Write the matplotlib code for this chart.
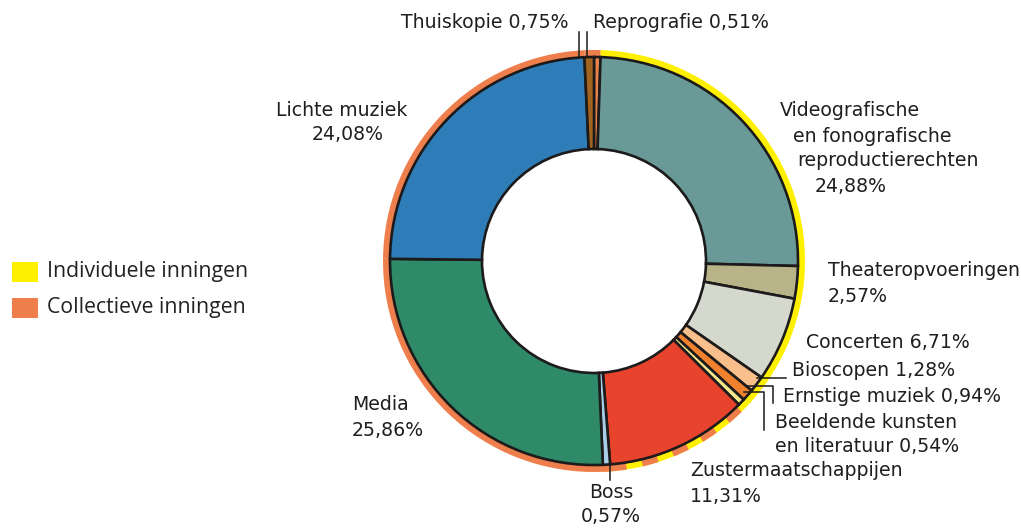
import matplotlib
matplotlib.use("Agg")
import matplotlib.pyplot as plt
from matplotlib.patches import Arc, Rectangle

categories = ["Reprografie", "Videografische en fonografische reproductierechten",
              "Theateropvoeringen", "Concerten", "Bioscopen", "Ernstige muziek",
              "Beeldende kunsten en literatuur", "Zustermaatschappijen", "Boss",
              "Media", "Lichte muziek", "Thuiskopie"]
values = [0.51, 24.88, 2.57, 6.71, 1.28, 0.94, 0.54, 11.31, 0.57, 25.86, 24.08, 0.75]
value_labels = ["0,51%", "24,88%", "2,57%", "6,71%", "1,28%", "0,94%", "0,54%",
                "11,31%", "0,57%", "25,86%", "24,08%", "0,75%"]
slice_colors = ["#e9824a", "#6a9a98", "#b8b388", "#d4d8cd", "#f8bf8c", "#f0812f",
                "#f4e68c", "#e8432d", "#a8cde4", "#2f8a69", "#2e7db8", "#a2631f"]
# ring type: O = collectief, Y = individueel, M = gemengd
ring_type = ["O", "Y", "Y", "Y", "Y", "Y", "Y", "M", "M", "O", "O", "O"]
legend_labels = ["Individuele inningen", "Collectieve inningen"]
YELLOW = "#fff000"
ORANGE = "#ee7f4c"

fig = plt.figure(figsize=(10.21, 5.28), dpi=100)
ax = fig.add_axes([0, 0, 1, 1])

cx, cy = 594, 528 - 261
R = 204
ring_w = 7
hole = 112

ring_cols = [ORANGE if t == "O" else YELLOW for t in ring_type]
ring_wedges, _ = ax.pie(values, colors=ring_cols, startangle=90, counterclock=False,
                        radius=R + ring_w, center=(cx, cy),
                        wedgeprops=dict(width=ring_w + 2, linewidth=0))
for w, t in zip(ring_wedges, ring_type):
    if t == "M":
        arc = Arc((cx, cy), 2 * (R + ring_w / 2), 2 * (R + ring_w / 2),
                  theta1=w.theta1, theta2=w.theta2, color=ORANGE,
                  linewidth=ring_w * 0.75, linestyle=(0, (2.2, 2.2)))
        ax.add_patch(arc)

wedges, _ = ax.pie(values, colors=slice_colors, startangle=90, counterclock=False,
                   radius=R, center=(cx, cy),
                   wedgeprops=dict(width=R - hole, edgecolor="#1c1a1a", linewidth=1.9))

ax.set_xlim(0, 1021)
ax.set_ylim(0, 528)
ax.set_aspect("equal")
ax.axis("off")

FONT = "DejaVu Sans"
fs = 13.6
tc = "#1f1f1f"

def T(x, y, s, ha="left"):
    ax.text(x, 528 - y, s, fontsize=fs, family=FONT, color=tc, ha=ha, va="center")

def L(pts):
    xs = [p[0] for p in pts]
    ys = [528 - p[1] for p in pts]
    ax.plot(xs, ys, color="#1c1a1a", linewidth=1.1)

T(568, 22, f"{categories[11]} {value_labels[11]}", ha="right")
L([(579, 32), (579, 56)])
T(593, 22, f"{categories[0]} {value_labels[0]}")
L([(587, 32), (587, 56)])

T(780, 110, "Videografische")
T(793, 136, "en fonografische")
T(797, 161, "reproductierechten")
T(815, 187, value_labels[1])

T(828, 271, categories[2])
T(828, 296, value_labels[2])
T(806, 342, f"{categories[3]} {value_labels[3]}")
T(792, 370, f"{categories[4]} {value_labels[4]}")
L([(757, 378), (786, 378)])
T(783, 396, f"{categories[5]} {value_labels[5]}")
L([(748, 386), (773, 386), (773, 403)])
T(775, 423, "Beeldende kunsten")
T(775, 447, f"en literatuur {value_labels[6]}")
L([(744, 392), (764, 392), (764, 430)])
T(690, 471, categories[7])
T(690, 496, value_labels[7])
T(611, 493, categories[8], ha="center")
T(611, 517, value_labels[8], ha="center")
L([(610, 466), (610, 480)])
T(380, 405, categories[9], ha="center")
T(388, 430, value_labels[9], ha="center")
T(342, 110, categories[10], ha="center")
T(348, 135, value_labels[10], ha="center")

for i, (lab, col) in enumerate(zip(legend_labels, [YELLOW, ORANGE])):
    y = 272 + i * 36
    ax.add_patch(Rectangle((12, 528 - y - 10), 26, 20, facecolor=col, edgecolor="none"))
    ax.text(47, 528 - y, lab, fontsize=15.3, family="Open Sans", color="#222222",
            ha="left", va="center")

fig.savefig("out.png", dpi=100)
